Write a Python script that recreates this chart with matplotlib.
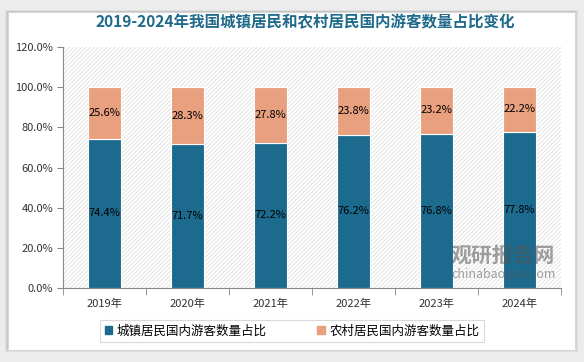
import matplotlib.pyplot as plt
from matplotlib.patches import Rectangle, Patch
import numpy as np

plt.rcParams['font.family'] = ['Noto Sans CJK SC', 'DejaVu Sans']
plt.rcParams['hatch.linewidth'] = 0.5
plt.rcParams['hatch.color'] = '#dadada'

# data
years = ['2019年', '2020年', '2021年', '2022年', '2023年', '2024年']
urban = [74.4, 71.7, 72.2, 76.2, 76.8, 77.8]
rural = [25.6, 28.3, 27.8, 23.8, 23.2, 22.2]
urban_name = '城镇居民国内游客数量占比'
rural_name = '农村居民国内游客数量占比'
title = '2019-2024年我国城镇居民和农村居民国内游客数量占比变化'

c_urban = '#1c6b8f'
c_rural = '#e9a07f'

fig = plt.figure(figsize=(5.84, 3.62), dpi=100)
fig.patch.set_facecolor('#ececec')

# white card with a soft shadow
for i, a in enumerate([0.05, 0.05, 0.06]):
    d = (3 - i) / 584
    fig.add_artist(Rectangle((8 / 584 - d, 12 / 362 - d), 567 / 584 + 2 * d, 338 / 362 + 2 * d,
                             transform=fig.transFigure, facecolor='#000000', alpha=a,
                             edgecolor='none', zorder=0))
fig.add_artist(Rectangle((8 / 584, 12 / 362), 567 / 584, 338 / 362, transform=fig.transFigure,
                         facecolor='white', edgecolor='#d8d8d8', linewidth=0.8, zorder=0))

ax = fig.add_axes([63 / 584, 74 / 362, 498 / 584, 241 / 362])
ax.set_facecolor('none')
ax.add_patch(Rectangle((0, 0), 1, 1, transform=ax.transAxes, facecolor='white',
                       hatch='////////', edgecolor='#dadada', linewidth=0, zorder=0))

x = np.arange(len(years))
ax.bar(x, urban, width=0.4, color=c_urban, edgecolor='white', linewidth=0.8, zorder=2,
       label=urban_name)
ax.bar(x, rural, width=0.4, bottom=urban, color=c_rural, edgecolor='white', linewidth=0.8,
       zorder=2, label=rural_name)

for xi, u, r in zip(x, urban, rural):
    ax.text(xi, u / 2, f'{u:.1f}%', ha='center', va='center', fontsize=8, color='black', zorder=3)
    ax.text(xi, u + r / 2, f'{r:.1f}%', ha='center', va='center', fontsize=8, color='black',
            zorder=3)

ax.set_xlim(-0.5, len(years) - 0.5)
ax.set_ylim(0, 120)
ax.set_yticks(np.arange(0, 121, 20))
ax.set_yticklabels([f'{v:.1f}%' for v in range(0, 121, 20)], fontsize=8, color='#333333')
ax.set_xticks(x)
ax.set_xticklabels(years, fontsize=8, color='#333333')
ax.set_xticks(np.arange(-0.5, len(years)), minor=True)
ax.tick_params(axis='x', which='major', length=0, pad=8)
ax.tick_params(axis='x', which='minor', length=5, color='#888888', direction='out')
ax.tick_params(axis='y', length=4, color='#888888', direction='out', pad=3)

for s in ['top', 'right']:
    ax.spines[s].set_visible(False)
ax.spines['left'].set_color('#888888')
ax.spines['bottom'].set_color('#888888')

# watermark
ax.text(0.884, 0.137, '观研报告网', transform=ax.transAxes, fontsize=15, fontweight='bold',
        color='#555555', alpha=0.55, ha='center', va='center', zorder=4)
ax.text(0.884, 0.058, 'chinabaogao.com', transform=ax.transAxes, fontsize=9,
        color='#555555', alpha=0.55, ha='center', va='center', zorder=4)

fig.text(0.522, 0.938, title, ha='center', va='center', fontsize=11.2, fontweight='bold',
         color='#1f6a8a')

leg = fig.legend(handles=[Patch(color=c_urban, label=urban_name),
                          Patch(color=c_rural, label=rural_name)],
                 loc='center', bbox_to_anchor=(292 / 584, 1 - 331 / 362), ncol=2, fontsize=9,
                 frameon=True, fancybox=False, edgecolor='#d0d0d0', handlelength=0.6,
                 handleheight=0.6, columnspacing=4, borderpad=0.35, handletextpad=0.4)
leg.get_frame().set_linewidth(0.8)

fig.savefig('out.png', dpi=100)
